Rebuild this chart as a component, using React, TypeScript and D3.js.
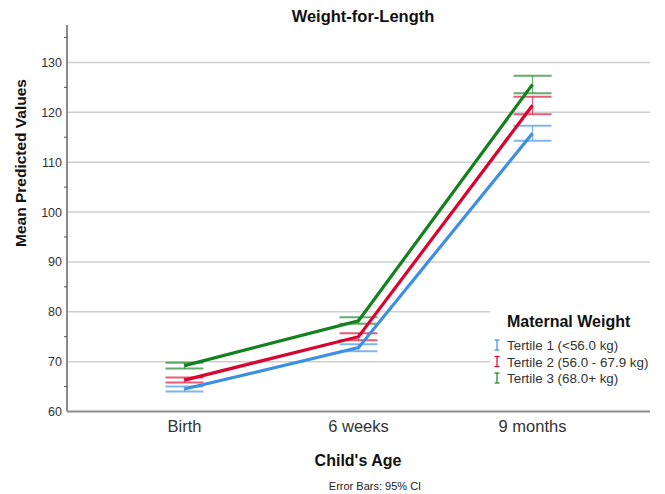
import React, { useEffect, useRef } from "react"
import * as d3 from "d3"

const ages = ["Birth", "6 weeks", "9 months"]
const tertiles = ["Tertile 1 (<56.0 kg)", "Tertile 2 (56.0 - 67.9 kg)", "Tertile 3 (68.0+ kg)"]
const colors = ["#3d8fe3", "#d9042f", "#15801f"]

const meanT1 = [64.5, 72.8, 115.8]
const meanT2 = [66.3, 75.0, 121.4]
const meanT3 = [69.2, 78.2, 125.6]
const lowT1 = [64.0, 72.1, 114.3]
const lowT2 = [65.8, 74.3, 119.6]
const lowT3 = [68.6, 77.6, 123.8]
const highT1 = [65.0, 73.5, 117.3]
const highT2 = [66.8, 75.7, 123.1]
const highT3 = [69.8, 78.9, 127.3]

const majorTicks = [60, 70, 80, 90, 100, 110, 120, 130]
const minorTicks = [65, 75, 85, 95, 105, 115, 125, 135]

const series = [
  { name: tertiles[0], mean: meanT1, low: lowT1, high: highT1 },
  { name: tertiles[1], mean: meanT2, low: lowT2, high: highT2 },
  { name: tertiles[2], mean: meanT3, low: lowT3, high: highT3 },
]

const FONT = "Arial, 'Liberation Sans', sans-serif"

const App = () => {
  const ref = useRef<SVGSVGElement>(null)

  useEffect(() => {
    const width = 665
    const height = 494
    const left = 67
    const right = 650
    const top = 25
    const bottom = 411.5

    const svg = d3.select(ref.current)
    svg.selectAll("*").remove()
    svg.attr("width", width).attr("height", height)

    const x = d3.scalePoint<string>().domain(ages).range([left, right]).padding(0.675)
    const y = d3.scaleLinear().domain([60, 137.5]).range([bottom, top])

    svg.append("rect").attr("width", width).attr("height", height).attr("fill", "#fff")

    // gridlines
    svg
      .append("g")
      .selectAll("line")
      .data(majorTicks.filter((t) => t > 60))
      .join("line")
      .attr("x1", left)
      .attr("x2", right)
      .attr("y1", (d) => y(d))
      .attr("y2", (d) => y(d))
      .attr("stroke", "#cfcfcf")
      .attr("stroke-width", 1.5)

    // axes
    svg
      .append("line")
      .attr("x1", left)
      .attr("x2", left)
      .attr("y1", top)
      .attr("y2", bottom)
      .attr("stroke", "#8a8a8a")
      .attr("stroke-width", 2)
    svg
      .append("line")
      .attr("x1", left)
      .attr("x2", right)
      .attr("y1", bottom)
      .attr("y2", bottom)
      .attr("stroke", "#8a8a8a")
      .attr("stroke-width", 2)

    svg
      .append("g")
      .selectAll("line")
      .data(minorTicks)
      .join("line")
      .attr("x1", left - 3)
      .attr("x2", left)
      .attr("y1", (d) => y(d))
      .attr("y2", (d) => y(d))
      .attr("stroke", "#555")
      .attr("stroke-width", 1)

    svg
      .append("g")
      .selectAll("text")
      .data(majorTicks)
      .join("text")
      .attr("x", left - 5)
      .attr("y", (d) => y(d) + 4.5)
      .attr("text-anchor", "end")
      .attr("font-family", FONT)
      .attr("font-size", 12.5)
      .attr("fill", "#333")
      .text((d) => d)

    svg
      .append("g")
      .selectAll("text")
      .data(ages)
      .join("text")
      .attr("x", (d) => x(d)!)
      .attr("y", 432)
      .attr("text-anchor", "middle")
      .attr("font-family", FONT)
      .attr("font-size", 16.5)
      .attr("fill", "#333")
      .text((d) => d)

    // error bars
    const cap = 19
    series.forEach((s, i) => {
      const g = svg.append("g").attr("stroke", colors[i]).attr("stroke-opacity", 0.65)
      ages.forEach((a, j) => {
        const cx = x(a)!
        g.append("line")
          .attr("x1", cx).attr("x2", cx)
          .attr("y1", y(s.low[j])).attr("y2", y(s.high[j]))
          .attr("stroke-width", 1.2)
        ;[s.low[j], s.high[j]].forEach((v) => {
          g.append("line")
            .attr("x1", cx - cap).attr("x2", cx + cap)
            .attr("y1", y(v)).attr("y2", y(v))
            .attr("stroke-width", 2)
        })
      })
    })

    // lines
    const line = d3
      .line<number>()
      .x((_, j) => x(ages[j])!)
      .y((d) => y(d))
    series.forEach((s, i) => {
      svg
        .append("path")
        .attr("d", line(s.mean))
        .attr("fill", "none")
        .attr("stroke", colors[i])
        .attr("stroke-width", 3.2)
    })

    // legend
    svg.append("rect").attr("x", 490).attr("y", 300).attr("width", 170).attr("height", 95).attr("fill", "#fff")
    svg
      .append("text")
      .attr("x", 507)
      .attr("y", 327)
      .attr("font-family", FONT)
      .attr("font-size", 16)
      .attr("font-weight", "bold")
      .attr("fill", "#111")
      .text("Maternal Weight")
    series.forEach((s, i) => {
      const ly = 350 + i * 16.5
      const ix = 497
      const g = svg.append("g").attr("stroke", colors[i]).attr("stroke-width", 1.2)
      g.append("line").attr("x1", ix).attr("x2", ix).attr("y1", ly - 10).attr("y2", ly)
      g.append("line").attr("x1", ix - 2.5).attr("x2", ix + 2.5).attr("y1", ly - 10).attr("y2", ly - 10)
      g.append("line").attr("x1", ix - 2.5).attr("x2", ix + 2.5).attr("y1", ly).attr("y2", ly)
      svg
        .append("text")
        .attr("x", 507)
        .attr("y", ly)
        .attr("font-family", FONT)
        .attr("font-size", 13.4)
        .attr("fill", "#333")
        .text(s.name)
    })

    // titles
    svg
      .append("text")
      .attr("x", 363)
      .attr("y", 22)
      .attr("text-anchor", "middle")
      .attr("font-family", FONT)
      .attr("font-size", 16.5)
      .attr("font-weight", "bold")
      .attr("fill", "#111")
      .text("Weight-for-Length")
    svg
      .append("text")
      .attr("x", 358)
      .attr("y", 466)
      .attr("text-anchor", "middle")
      .attr("font-family", FONT)
      .attr("font-size", 16)
      .attr("font-weight", "bold")
      .attr("fill", "#111")
      .text("Child's Age")
    svg
      .append("text")
      .attr("transform", `translate(26, 163) rotate(-90)`)
      .attr("text-anchor", "middle")
      .attr("font-family", FONT)
      .attr("font-size", 15.5)
      .attr("font-weight", "bold")
      .attr("fill", "#111")
      .text("Mean Predicted Values")
    svg
      .append("text")
      .attr("x", 375)
      .attr("y", 490)
      .attr("text-anchor", "middle")
      .attr("font-family", FONT)
      .attr("font-size", 11)
      .attr("fill", "#222")
      .text("Error Bars: 95% CI")
  }, [])

  return <svg ref={ref} style={{ position: "absolute", left: 0, top: 0, display: "block" }}></svg>
}

export default App
